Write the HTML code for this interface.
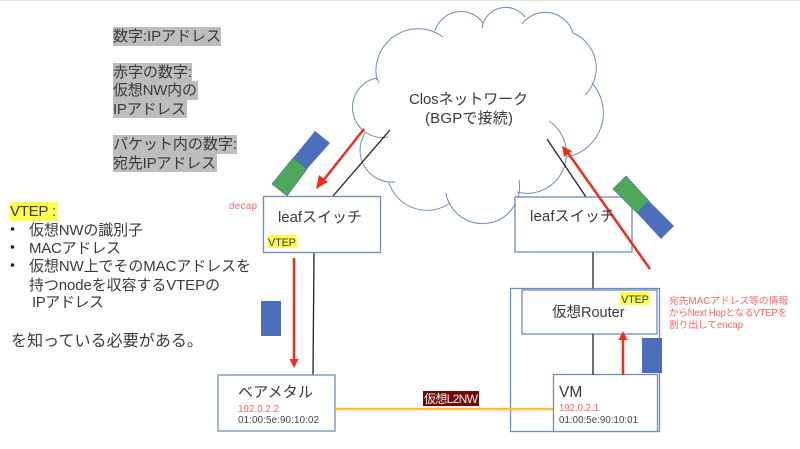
<!DOCTYPE html>
<html><head><meta charset="utf-8">
<style>
html,body{margin:0;padding:0;background:#fff;width:800px;height:449px;overflow:hidden}
svg{display:block}
text{font-family:"Liberation Sans","Noto Sans CJK JP",sans-serif;fill:#3a3a3a}
.o{fill:none;stroke:#6f8cbd;stroke-width:1}
.b{fill:#fff;stroke:#6f8cbd;stroke-width:1.3}
.k{stroke:#222;stroke-width:1.3;fill:none}
.r{stroke:#ee2e1f;stroke-width:2.5;fill:none}
.s{font-size:9.7px;fill:#f66}
.m{font-size:9.7px;fill:#444}
</style></head><body>
<svg width="800" height="449" viewBox="0 0 800 449" xmlns="http://www.w3.org/2000/svg">
<rect width="800" height="449" fill="#fff"/>
<rect width="800" height="1" fill="#e4e4e4"/>

<!-- gray highlights -->
<g fill="#bdbdbd">
<rect x="113" y="27" width="108" height="19"/>
<rect x="113" y="63" width="79" height="19"/>
<rect x="113" y="81" width="85" height="19"/>
<rect x="113" y="100" width="74" height="18"/>
<rect x="113" y="135" width="124" height="19"/>
<rect x="113" y="154" width="104" height="18"/>
</g>
<g font-size="15">
<text x="113" y="41" textLength="108">数字:IPアドレス</text>
<text x="113" y="77" textLength="79">赤字の数字:</text>
<text x="113" y="95" textLength="84">仮想NW内の</text>
<text x="113" y="114" textLength="73">IPアドレス</text>
<text x="113" y="149" textLength="124">パケット内の数字:</text>
<text x="113" y="168" textLength="103">宛先IPアドレス</text>
</g>

<!-- VTEP list -->
<rect x="9.5" y="202" width="47.5" height="19" fill="#ffff4d"/>
<g font-size="15">
<text x="10" y="216" textLength="46">VTEP :</text>
<text x="29" y="235" textLength="114">仮想NWの識別子</text>
<text x="29" y="253" textLength="92">MACアドレス</text>
<text x="29" y="271" textLength="222">仮想NW上でそのMACアドレスを</text>
<text x="29" y="290" textLength="191">持つnodeを収容するVTEPの</text>
<text x="32" y="307" textLength="72">IPアドレス</text>
<text x="11" y="346" font-size="16" textLength="192">を知っている必要がある。</text>
</g>
<g fill="#222"><circle cx="12.5" cy="229" r="1.8"/><circle cx="12.5" cy="247" r="1.8"/><circle cx="12.5" cy="265" r="1.8"/></g>

<!-- cloud -->
<g class="o">
<path d="M379,83 L377,78 A30,30 0 0 0 388,137"/>
<path d="M377,80 A42,42 0 0 1 443,37"/>
<path d="M435,31 A27,27 0 0 1 483,23"/>
<path d="M482,28 A24,24 0 0 1 525,17"/>
<path d="M522,24 A29,29 0 0 1 573,33"/>
<path d="M573,33 A38,38 0 0 1 585,95"/>
<path d="M592,83 A45,45 0 0 1 567,157"/>
<path d="M549,121 A39.5,39.5 0 0 1 517,192"/>
<path d="M519,180 A37,37 0 0 1 446,193"/>
<path d="M450,203 A40,40 0 0 1 389,183"/>
<path d="M395,182 A32,32 0 0 1 365,133"/>
</g>
<g font-size="15">
<text x="409" y="104" textLength="119">Closネットワーク</text>
<text x="425" y="123" textLength="88">(BGPで接続)</text>
</g>

<!-- black connectors -->
<path class="k" d="M390,130 L333,196"/>
<path class="k" d="M547,139 L586,197"/>
<path class="k" d="M314,252 L313,376"/>
<path class="k" d="M593,252 L593,290"/>

<!-- boxes -->
<rect class="b" x="263.5" y="196.5" width="117" height="56"/>
<rect class="b" x="515" y="197" width="117" height="55"/>
<rect x="510.5" y="288.5" width="149" height="143" fill="none" stroke="#6f8cbd" stroke-width="1.3"/>
<rect class="b" x="522" y="290" width="135" height="44"/>
<rect class="b" x="553.5" y="374.5" width="104" height="57"/>
<rect class="b" x="218" y="375" width="117" height="56"/>
<path class="k" d="M593,334 L593,375"/>

<!-- packets -->
<polygon points="315,131 330,143 307,169 293,158" fill="#4d6fbb"/>
<polygon points="293,158 307,169 287,196 272,184" fill="#4ea85c" stroke="#3f6f8a" stroke-width=".6"/>
<polygon points="626,176 649,201 637,213 613,189" fill="#4ea85c" stroke="#3f6f8a" stroke-width=".6"/>
<polygon points="649,201 674,226 661,239 637,213" fill="#4d6fbb"/>
<rect x="261" y="301" width="20" height="35" fill="#4d6fbb"/>
<rect x="642" y="338" width="20" height="35" fill="#4d6fbb"/>

<!-- red arrows -->
<path class="r" d="M364,129 L322,182"/>
<polygon points="316,189 319,175 328,182" fill="#ee2e1f"/>
<path class="r" d="M294,258 L294,360"/>
<polygon points="294,368 289.5,359 298.5,359" fill="#ee2e1f"/>
<path class="r" d="M623,375 L623,339"/>
<polygon points="623,331 618.5,340 627.5,340" fill="#ee2e1f"/>
<path class="r" d="M650,269 L568,153"/>
<polygon points="562,146 572,151 564,157" fill="#ee2e1f"/>

<!-- yellow L2 -->
<path d="M335,409 L553,409" stroke="#f5bd42" stroke-width="2.5" fill="none"/>
<rect x="423" y="391" width="56" height="15" fill="#6e0a05"/>
<text x="424" y="403" font-size="12" style="fill:#eee" textLength="54">仮想L2NW</text>

<!-- labels -->
<g font-size="15">
<text x="278" y="222" textLength="84">leafスイッチ</text>
<text x="530" y="221" textLength="85">leafスイッチ</text>
<text x="238" y="397" textLength="75">ベアメタル</text>
</g>
<text x="552" y="317" font-size="14.5">仮想Router</text>
<text x="559" y="397" font-size="15.5">VM</text>

<rect x="267" y="235" width="30" height="13" fill="#ffff4d"/>
<text x="268" y="246" font-size="11" textLength="28">VTEP</text>
<rect x="620" y="292" width="30" height="13" fill="#ffff4d"/>
<text x="621" y="303" font-size="11" textLength="28">VTEP</text>

<text class="s" x="229" y="209" textLength="28">decap</text>
<text class="s" x="238" y="412" textLength="41">192.0.2.2</text>
<text class="m" x="238" y="423" textLength="81">01:00:5e:90:10:02</text>
<text class="s" x="559" y="411" textLength="40">192.0.2.1</text>
<text class="m" x="559" y="423" textLength="79">01:00:5e:90:10:01</text>
<text class="s" x="669" y="304" textLength="119">宛先MACアドレス等の情報</text>
<text class="s" x="669" y="316" textLength="118">からNext HopとなるVTEPを</text>
<text class="s" x="669" y="328" textLength="74">割り出してencap</text>
</svg>
</body></html>
